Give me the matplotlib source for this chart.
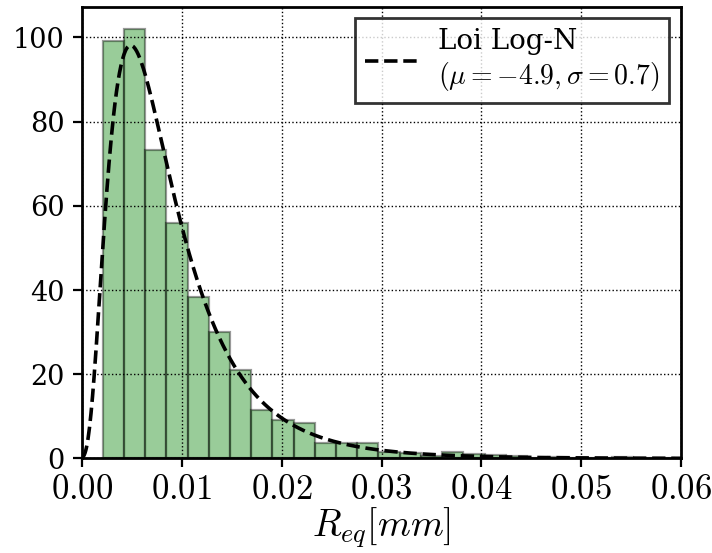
import numpy as np
import matplotlib
matplotlib.use("Agg")
import matplotlib.pyplot as plt

plt.rcParams['font.family'] = ['DejaVu Serif']
plt.rcParams['mathtext.fontset'] = 'cm'

# Histogram (density)
bin_start = 0.00207
bin_width = 0.002125
densities = [99.1, 102.1, 73.2, 56.0, 38.4, 30.0, 21.0, 11.6, 9.1, 8.5,
             3.7, 3.7, 3.6, 1.6, 1.4, 0.7, 1.6, 1.0, 0.8, 0.5,
             0.2, 0.3, 0.0, 0.2, 0.3, 0.2, 0.2]

# Fitted log-normal curve parameters
fit_mu = -4.83
fit_sigma = 0.615
fit_loc = -0.0006
legend_mu = -4.9
legend_sigma = 0.7

xticks = [0.00, 0.01, 0.02, 0.03, 0.04, 0.05, 0.06]
xtick_labels = ['0.00', '0.01', '0.02', '0.03', '0.04', '0.05', '0.06']
yticks = [0, 20, 40, 60, 80, 100]

fig = plt.figure(figsize=(7.12, 5.53), dpi=100)
ax = fig.add_axes([0.1152, 0.1709, 0.8413, 0.8170])

lefts = bin_start + bin_width * np.arange(len(densities))
ax.bar(lefts, densities, width=bin_width, align='edge', color='g', alpha=0.4,
       edgecolor='k', linewidth=1.6)

x = np.linspace(0.0, 0.06, 800)
y = x - fit_loc
pdf = np.exp(-(np.log(y) - fit_mu) ** 2 / (2 * fit_sigma ** 2)) / (y * fit_sigma * np.sqrt(2 * np.pi))
ax.plot(x, pdf, 'k--', lw=2.6,
        label='Loi Log-N\n' + r'$(\mu=%.1f, \sigma=%.1f)$' % (legend_mu, legend_sigma))

ax.set_xlim(0, 0.06)
ax.set_ylim(0, 107.3)
ax.set_xticks(xticks)
ax.set_xticklabels(['$' + t + '$' for t in xtick_labels], fontsize=25)
ax.set_yticks(yticks)
ax.tick_params(axis='y', labelsize=19.5, pad=6)
ax.tick_params(axis='x', pad=3)
ax.tick_params(axis='both', direction='out', length=6.5, width=1.6, color='k')
ax.grid(True, color='k', linestyle=':', linewidth=1.0)
for s in ax.spines.values():
    s.set_linewidth(2.0)

ax.set_xlabel(r'$R_{eq} [mm]$', fontsize=27, labelpad=0)

leg = ax.legend(loc='upper right', fontsize=20, fancybox=False, edgecolor='k',
                framealpha=0.8, handlelength=1.9, handletextpad=0.75,
                borderpad=0.35, borderaxespad=0.42)
leg.get_frame().set_linewidth(2.0)

fig.savefig('out.png', dpi=100)
